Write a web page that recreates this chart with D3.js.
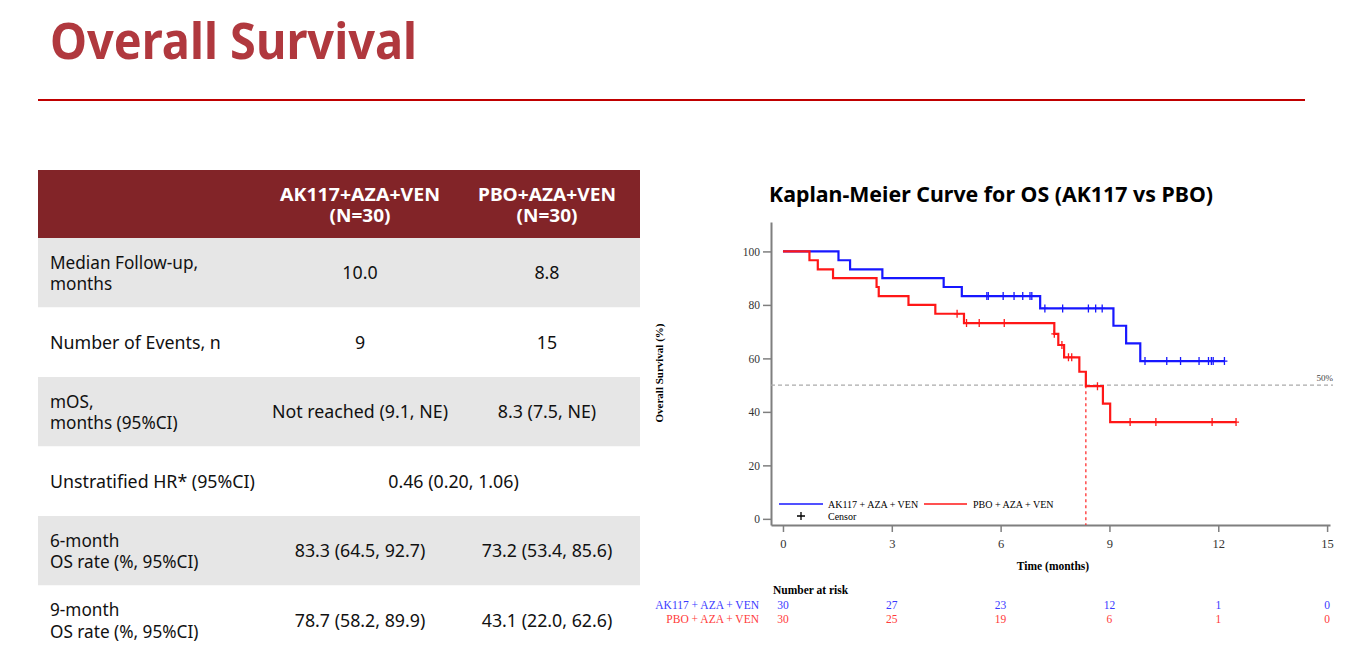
<!DOCTYPE html>
<html>
<head>
<meta charset="utf-8">
<script src="https://cdn.jsdelivr.net/npm/d3@7/dist/d3.min.js"></script>
<style>
  body { margin: 0; background: #fff; }
  svg { display: block; }
</style>
</head>
<body>
<div id="chart"></div>
<script>
////////////////////////////////////////////////////////////////////
////////////////////////////  Data  ////////////////////////////////
const groups = ["AK117+AZA+VEN", "PBO+AZA+VEN"];
const groupN = ["(N=30)", "(N=30)"];
const rowLabels = [
  ["Median Follow-up,", "months"],
  ["Number of Events, n"],
  ["mOS,", "months (95%CI)"],
  ["Unstratified HR* (95%CI)"],
  ["6-month", "OS rate (%, 95%CI)"],
  ["9-month", "OS rate (%, 95%CI)"]
];
const akValues = ["10.0", "9", "Not reached (9.1, NE)", "0.46 (0.20, 1.06)", "83.3 (64.5, 92.7)", "78.7 (58.2, 89.9)"];
const pboValues = ["8.8", "15", "8.3 (7.5, NE)", null, "73.2 (53.4, 85.6)", "43.1 (22.0, 62.6)"];

// Kaplan-Meier steps (months, survival %)
const akTimes = [0, 1.53, 1.85, 2.74, 4.43, 4.93, 7.09, 9.11, 9.46, 9.85];
const akSurv = [100, 96.7, 93.3, 90.0, 86.7, 83.3, 78.7, 72.2, 65.6, 59.0];
const akCensor = [5.62, 5.66, 6.07, 6.37, 6.61, 6.81, 6.86, 7.22, 7.71, 8.42, 8.62, 8.80,
  9.98, 10.58, 10.96, 11.47, 11.73, 11.81, 11.86, 12.17];

const pboTimes = [0, 0.73, 0.96, 1.38, 2.58, 2.64, 3.46, 4.20, 4.99, 7.48, 7.59, 7.75, 8.17, 8.35, 8.82, 9.02];
const pboSurv = [100, 96.7, 93.3, 90.0, 86.7, 83.3, 80.0, 76.7, 73.2, 69.2, 65.0, 60.4, 55.0, 49.6, 43.1, 36.2];
const pboCensor = [4.80, 5.06, 5.41, 6.10, 7.48, 7.69, 7.87, 7.96, 8.67, 9.57, 10.28, 11.83, 12.49];
const pboMedian = 8.35;

const xTicks = [0, 3, 6, 9, 12, 15];
const yTicks = [0, 20, 40, 60, 80, 100];
const riskLabels = ["AK117 + AZA + VEN", "PBO + AZA + VEN"];
const akRisk = [30, 27, 23, 12, 1, 0];
const pboRisk = [30, 25, 19, 6, 1, 0];

////////////////////////////////////////////////////////////////////
////////////////////////////  Init  ////////////////////////////////
const width = 1368;
const height = 665;
const sans = "'Noto Sans', 'Open Sans', sans-serif";
const serif = "'Liberation Serif', 'DejaVu Serif', serif";

const svg = d3.select("#chart").append("svg")
  .attr("width", width)
  .attr("height", height);

// fit text to a measured width from the picture
function fitWidth(sel, w) {
  sel.attr("textLength", w).attr("lengthAdjust", "spacingAndGlyphs");
}

// slide title + rule
svg.append("text")
  .attr("x", 50).attr("y", 59)
  .attr("font-family", sans).attr("font-weight", 700).attr("font-size", 50)
  .attr("fill", "#b0383e")
  .text("Overall Survival")
  .call(fitWidth, 367);

svg.append("line")
  .attr("x1", 38).attr("x2", 1305).attr("y1", 100).attr("y2", 100)
  .attr("stroke", "#c00000").attr("stroke-width", 2);

////////////////////////////////////////////////////////////////////
////////////////////////////  Table  ///////////////////////////////
const tbl = svg.append("g");
const colX = d3.scalePoint().domain(groups).range([360, 547]);
const rowY = d3.scaleBand().domain(d3.range(rowLabels.length)).range([238, 655]);
const headW = [160, 138];

tbl.append("rect")
  .attr("x", 38).attr("y", 170).attr("width", 602).attr("height", 68)
  .attr("fill", "#822428");

groups.forEach((g, i) => {
  tbl.append("text")
    .attr("x", colX(g)).attr("y", 200.5).attr("text-anchor", "middle")
    .attr("font-family", sans).attr("font-weight", 700).attr("font-size", 17)
    .attr("fill", "#fff")
    .text(g)
    .call(fitWidth, headW[i]);
  tbl.append("text")
    .attr("x", colX(g)).attr("y", 222).attr("text-anchor", "middle")
    .attr("font-family", sans).attr("font-weight", 700).attr("font-size", 17)
    .attr("fill", "#fff")
    .text(groupN[i])
    .call(fitWidth, 61);
});

const rows = tbl.selectAll(".row")
  .data(rowLabels)
  .join("g")
  .attr("class", "row");

rows.append("rect")
  .attr("x", 38).attr("width", 602)
  .attr("y", (d, i) => rowY(i))
  .attr("height", rowY.bandwidth())
  .attr("fill", (d, i) => (i % 2 === 0 ? "#e6e6e6" : "#fff"));

// row labels: one text element per line
rows.each(function (d, i) {
  const c = rowY(i) + rowY.bandwidth() / 2;
  const base = d.length === 1 ? [c + 6.5] : [c - 4, c + 17.5];
  d3.select(this).selectAll("text.lbl")
    .data(d)
    .join("text")
    .attr("class", "lbl")
    .attr("font-family", sans).attr("font-size", d.length === 1 ? 17.8 : 17.2).attr("fill", "#111")
    .attr("x", 50)
    .attr("y", (s, j) => base[j])
    .text((s) => s);
});

rows.append("text")
  .attr("font-family", sans).attr("font-size", 17.8).attr("fill", "#111")
  .attr("text-anchor", "middle")
  .attr("x", (d, i) => (pboValues[i] === null ? (colX(groups[0]) + colX(groups[1])) / 2 : colX(groups[0])))
  .attr("y", (d, i) => rowY(i) + rowY.bandwidth() / 2 + 6.5)
  .text((d, i) => akValues[i]);

rows.filter((d, i) => pboValues[i] !== null)
  .append("text")
  .attr("font-family", sans).attr("font-size", 17.8).attr("fill", "#111")
  .attr("text-anchor", "middle")
  .attr("x", colX(groups[1]))
  .attr("y", (d) => rowY(rowLabels.indexOf(d)) + rowY.bandwidth() / 2 + 6.5)
  .text((d) => pboValues[rowLabels.indexOf(d)]);

////////////////////////////////////////////////////////////////////
////////////////////////////  KM plot  /////////////////////////////
svg.append("text")
  .attr("x", 769).attr("y", 202)
  .attr("font-family", sans).attr("font-weight", 700).attr("font-size", 21)
  .attr("fill", "#000")
  .text("Kaplan-Meier Curve for OS (AK117 vs PBO)")
  .call(fitWidth, 444);

const xScale = d3.scaleLinear().domain([-0.33, 15.08]).range([771, 1330]);
const yScale = d3.scaleLinear().domain([-2.3, 111]).range([525, 222]);

const xAxis = d3.axisBottom(xScale).tickValues(xTicks).tickSize(7).tickSizeOuter(0).tickPadding(7);
const yAxis = d3.axisLeft(yScale).tickValues(yTicks).tickSize(8).tickSizeOuter(0).tickPadding(3);

const gx = svg.append("g")
  .attr("transform", `translate(0,${yScale(-2.3)})`)
  .call(xAxis);
const gy = svg.append("g")
  .attr("transform", `translate(${xScale(-0.33)},0)`)
  .call(yAxis);

[gx, gy].forEach((g) => {
  g.select(".domain").attr("stroke", "#7f7f7f").attr("stroke-width", 2);
  g.selectAll(".tick line").attr("stroke", "#7f7f7f").attr("stroke-width", 1.5);
  g.selectAll(".tick text").attr("font-family", serif).attr("fill", "#333");
});
gx.selectAll(".tick text").attr("font-size", 12.5);
gy.selectAll(".tick text").attr("font-size", 11.5);

svg.append("text")
  .attr("transform", "translate(663,373) rotate(-90)")
  .attr("text-anchor", "middle")
  .attr("font-family", serif).attr("font-weight", 700).attr("font-size", 11)
  .text("Overall Survival (%)");

svg.append("text")
  .attr("x", 1053).attr("y", 570)
  .attr("text-anchor", "middle")
  .attr("font-family", serif).attr("font-weight", 700).attr("font-size", 11.5)
  .text("Time (months)");

// 50% reference
svg.append("line")
  .attr("x1", xScale(-0.33)).attr("x2", 1333)
  .attr("y1", yScale(50)).attr("y2", yScale(50))
  .attr("stroke", "#aaa").attr("stroke-width", 1.3).attr("stroke-dasharray", "4,3");
svg.append("text")
  .attr("x", 1333).attr("y", yScale(50) - 4)
  .attr("text-anchor", "end")
  .attr("font-family", serif).attr("font-size", 9).attr("fill", "#444")
  .text("50%");

// median line for PBO arm
svg.append("line")
  .attr("x1", xScale(pboMedian)).attr("x2", xScale(pboMedian))
  .attr("y1", yScale(50)).attr("y2", yScale(-2.3))
  .attr("stroke", "#ff2020").attr("stroke-width", 1.2).attr("stroke-dasharray", "3,3");

const line = d3.line()
  .curve(d3.curveStepAfter)
  .x((d) => xScale(d[0]))
  .y((d) => yScale(d[1]));

const arms = [
  { times: akTimes, surv: akSurv, censor: akCensor, color: "#1717ff" },
  { times: pboTimes, surv: pboSurv, censor: pboCensor, color: "#ff1717" }
];

arms.forEach((arm) => {
  const pts = arm.times.map((t, i) => [t, arm.surv[i]]);
  pts.push([d3.max(arm.censor), arm.surv[arm.surv.length - 1]]);

  svg.append("path")
    .datum(pts)
    .attr("fill", "none")
    .attr("stroke", arm.color)
    .attr("stroke-width", 2.2)
    .attr("d", line);

  // survival at a censor time = last step at or before it
  const bis = d3.bisector((d) => d).right;
  const censorPts = arm.censor.map((t) => [t, arm.surv[bis(arm.times, t) - 1]]);

  svg.append("g")
    .selectAll("path")
    .data(censorPts)
    .join("path")
    .attr("d", (d) => {
      const cx = xScale(d[0]), cy = yScale(d[1]);
      return `M${cx},${cy - 4}V${cy + 4}M${cx - 3},${cy}H${cx + 3}`;
    })
    .attr("stroke", arm.color)
    .attr("stroke-width", 1.3)
    .attr("fill", "none");
});

// legend
const legend = svg.append("g").attr("font-family", serif).attr("font-size", 10);
legend.append("line").attr("x1", 779).attr("x2", 823).attr("y1", 504).attr("y2", 504)
  .attr("stroke", "#1717ff").attr("stroke-width", 1.5);
legend.append("text").attr("x", 828).attr("y", 507.5).text("AK117 + AZA + VEN");
legend.append("line").attr("x1", 924).attr("x2", 967).attr("y1", 504).attr("y2", 504)
  .attr("stroke", "#ff1717").attr("stroke-width", 1.5);
legend.append("text").attr("x", 973).attr("y", 507.5).text("PBO + AZA + VEN");
legend.append("path").attr("d", "M801,512V520M797,516H805")
  .attr("stroke", "#000").attr("stroke-width", 1.3);
legend.append("text").attr("x", 828).attr("y", 520).text("Censor");

////////////////////////////////////////////////////////////////////
////////////////////////////  At risk  /////////////////////////////
const risk = svg.append("g").attr("font-family", serif).attr("font-size", 11.5);
risk.append("text")
  .attr("x", 773).attr("y", 594)
  .attr("font-weight", 700)
  .text("Number at risk");

[akRisk, pboRisk].forEach((vals, k) => {
  const color = k === 0 ? "#3a3aff" : "#ff3a3a";
  const yy = k === 0 ? 609 : 622.5;
  risk.append("text")
    .attr("x", 759).attr("y", yy)
    .attr("text-anchor", "end")
    .attr("fill", color)
    .text(riskLabels[k]);
  risk.selectAll(null)
    .data(vals)
    .join("text")
    .attr("x", (d, i) => xScale(xTicks[i]))
    .attr("y", yy)
    .attr("text-anchor", "middle")
    .attr("fill", color)
    .text((d) => d);
});
</script>
</body>
</html>
